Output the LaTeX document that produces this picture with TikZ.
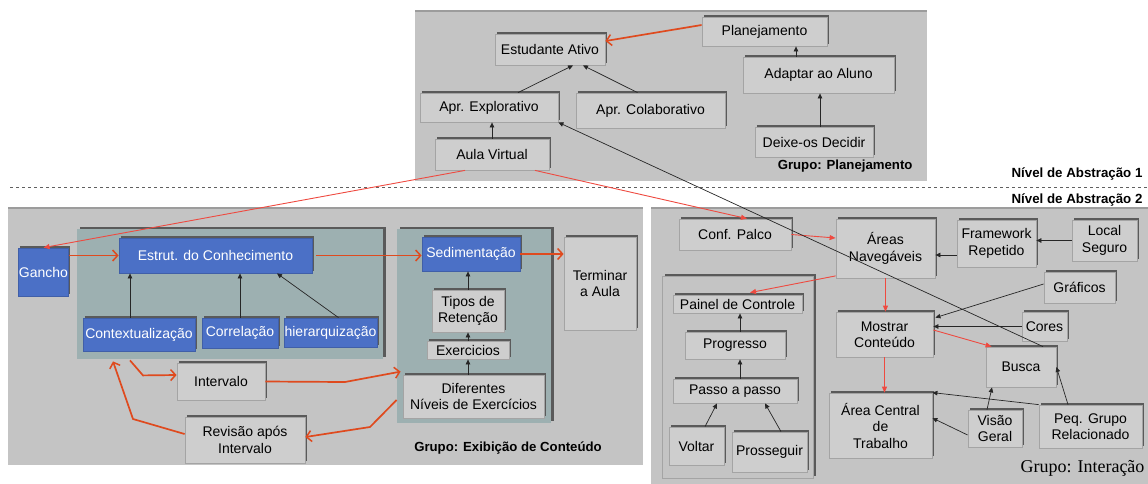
\documentclass[tikz,border=0pt]{standalone}
\usepackage{fontspec}
\setmainfont{Liberation Sans}
\newfontfamily\grpserif{Liberation Serif}
\usetikzlibrary{arrows.meta}
\definecolor{panelgray}{HTML}{C4C4C4}
\definecolor{paneltop}{HTML}{9C9C9C}
\definecolor{boxgray}{HTML}{CECECE}
\definecolor{boxedge}{HTML}{A4A4A4}
\definecolor{darkedge}{HTML}{5A5A5A}
\definecolor{tealbox}{HTML}{9DB0B1}
\definecolor{bluebox}{HTML}{4B70C6}
\definecolor{redline}{HTML}{DF4A1E}
\definecolor{thinred}{HTML}{EE4A40}
\definecolor{dashgray}{HTML}{606060}

\tikzset{
  box/.style={draw=boxedge, fill=boxgray, line width=0.8pt, inner sep=0.5pt,
    align=center, font=\fontsize{14}{16.5}\selectfont,
    preaction={fill=darkedge, transform canvas={shift={(1.6pt,1.6pt)}}}},
  bluenode/.style={box, fill=bluebox, draw=bluebox!85!black, text=white},
  sz/.style 2 args={minimum width=#1, minimum height=#2},
  blk/.style={-{Triangle[length=5pt,width=4.5pt]}, line width=0.7pt, draw=black!85},
  redthick/.style={-{Straight Barb[length=5pt,width=11pt,line width=1.5pt]},
    line width=1.7pt, draw=redline},
  redthin/.style={-{Triangle[length=6pt,width=5pt]}, line width=0.9pt, draw=thinred},
  grplabel/.style={font=\bfseries\fontsize{13.2}{15}\selectfont},
  levellabel/.style={font=\bfseries\fontsize{13.3}{15}\selectfont, anchor=east},
  panel/.style={fill=panelgray},
  innerpanel/.style={preaction={fill=darkedge, transform canvas={shift={(2.5pt,2.5pt)}}}},
}

\begin{document}
\begin{tikzpicture}[x=1pt,y=-1pt]
\useasboundingbox (0,0) rectangle (1148,483);

% ---------- group panels ----------
\fill[panel] (415,10) rectangle (927,181);
\draw[paneltop, line width=2pt] (415,11) -- (927,11);
\fill[panel] (8,207) rectangle (643,465);
\draw[paneltop, line width=2pt] (8,208) -- (643,208);
\fill[panel] (651,207) rectangle (1150,485);
\draw[paneltop, line width=2pt] (651,208) -- (1150,208);

% inner framed areas
\fill[tealbox, innerpanel] (77,229) rectangle (383,359);
\fill[tealbox, innerpanel] (397,229) rectangle (551,423);
\fill[panelgray, innerpanel] (662,276) rectangle (813,478);
\draw[boxedge, line width=0.6pt] (662,276) rectangle (813,478);

% ---------- abstraction levels ----------
\coordinate (dashL) at (10,187);
\coordinate (dashR) at (1148,187);
\draw[dashgray, dashed, line width=0.7pt] (dashL) -- (dashR);
\node[levellabel] (lvlA) at (1146,174) {Nível de Abstração 1};
\node[levellabel] (lvlB) at (1146,200) {Nível de Abstração 2};

% ---------- group: planejamento ----------
\node[box, sz={110}{31}] (estud) at (550,49.5) {Estudante Ativo};
\node[box, sz={138}{29}] (aexp) at (489,107.5) {Apr. Explorativo};
\node[box, sz={149}{35}] (acol) at (650.5,110.5) {Apr. Colaborativo};
\node[box, sz={114}{31}] (aula) at (492,154.5) {Aula Virtual};
\node[box, sz={125}{29}] (plan) at (764.5,31.5) {Planejamento};
\node[box, sz={151}{36}] (adapt) at (818.5,75) {Adaptar ao Aluno};
\node[box, sz={118}{30}] (deixe) at (814,142) {Deixe-os Decidir};
\node[grplabel, anchor=east] (gplan) at (916,166) {Grupo: Planejamento};

% ---------- group: exibicao de conteudo ----------
\node[bluenode, sz={47}{48}] (gancho) at (43.5,272) {Gancho};
\node[bluenode, sz={193}{35}] (estrut) at (215.5,255.5) {Estrut. do Conhecimento};
\node[bluenode, sz={112}{33}] (context) at (139,334.5) {Contextualização};
\node[bluenode, sz={76}{30}] (correl) at (240,333) {Correlação};
\node[bluenode, sz={89}{29}] (hier) at (330.5,332.5) {hierarquização};
\node[bluenode, sz={98}{34}] (sedim) at (471,254) {Sedimentação};
\node[box, sz={88}{37}] (interv) at (221,381.5) {Intervalo};
\node[box, sz={120}{46}] (revis) at (245,440) {Revisão após\\Intervalo};
\node[box, sz={72}{42}] (tipos) at (468,311) {Tipos de\\Retenção};
\node[box, sz={82}{18}] (exerc) at (468,350) {Exercicios};
\node[box, sz={141}{43}] (difer) at (473.5,396.5) {Diferentes\\Níveis de Exercícios};
\node[box, sz={72}{93}] (termin) at (600,283.5) {Terminar\\a Aula};
\node[grplabel] (gexib) at (508,448) {Grupo: Exibição de Conteúdo};

% ---------- group: interacao ----------
\node[box, sz={112}{31}] (conf) at (735,234.5) {Conf. Palco};
\node[box, sz={99}{59}] (areas) at (885.5,248.5) {Áreas\\Navegáveis};
\node[box, sz={79}{47}] (frame) at (996.5,243.5) {Framework\\Repetido};
\node[box, sz={65}{41}] (local) at (1104.5,240.5) {Local\\Seguro};
\node[box, sz={71}{31}] (graf) at (1079.5,287.5) {Gráficos};
\node[box, sz={45}{29}] (cores) at (1044.5,326.5) {Cores};
\node[box, sz={97}{45}] (mostrar) at (884.5,334.5) {Mostrar\\Conteúdo};
\node[box, sz={70}{40}] (busca) at (1021,367) {Busca};
\node[box, sz={103}{65}] (central) at (880.5,425.5) {Área Central\\de\\Trabalho};
\node[box, sz={54}{37}] (visao) at (995,428.5) {Visão\\Geral};
\node[box, sz={103}{43}] (peq) at (1090.5,426.5) {Peq. Grupo\\Relacionado};
\node[box, sz={129}{18}] (painel) at (737.5,304) {Painel de Controle};
\node[box, sz={100}{27}] (progr) at (735,345.5) {Progresso};
\node[box, sz={124}{24}] (passo) at (735,391) {Passo a passo};
\node[box, sz={55}{38}] (voltar) at (696.5,446) {Voltar};
\node[box, sz={75}{40}] (prosseg) at (769.5,452) {Prosseguir};
\node[font=\grpserif\fontsize{18}{20}\selectfont, anchor=east] (ginter) at (1148,468) {Grupo: Interação};

% ---------- connectors: planejamento ----------
\draw[redthick] ([yshift=6.5pt]plan.west) -- ([yshift=8.5pt]estud.east);
\draw[blk] ([xshift=29pt]aexp.north) -- ([xshift=23pt]estud.south);
\draw[blk] ([xshift=-13pt]acol.north) -- ([xshift=33pt]estud.south);
\draw[blk] (aula.north) -- (aula.north |- aexp.south);
\draw[blk] ([xshift=6pt]deixe.north) -- ([xshift=6pt]deixe.north |- adapt.south);
\draw[blk] ([xshift=-22.5pt]adapt.north) -- ([xshift=-22.5pt]adapt.north |- plan.south);

% ---------- connectors: exibicao de conteudo ----------
\draw[redthick] (gancho.east |- estrut.west) -- (estrut.west);
\draw[redthick] ([xshift=4pt]estrut.east) -- (estrut.east -| sedim.west);
\draw[redthick] (sedim.east) -- (sedim.east -| termin.west);
\draw[blk] ([xshift=-9pt]context.north) -- ([xshift=-9pt]context.north |- estrut.south);
\draw[blk] (correl.north) -- (correl.north |- estrut.south);
\draw[blk] ([xshift=8pt]hier.north) -- ([xshift=61.5pt]estrut.south);
\draw[blk] (tipos.north) -- (tipos.north |- sedim.south);
\draw[blk] (exerc.north) -- (tipos.south);
\draw[blk] (difer.north -| exerc.south) -- (exerc.south);
\draw[redthick] ([xshift=-9pt,yshift=-9pt]context.south) -- ++(13,15) -- ([yshift=6.5pt]interv.west);
\draw[redthick] (interv.east) -- (345,382) -- ([xshift=-2pt,yshift=3pt]difer.north west);
\draw[redthick] ([xshift=-6pt,yshift=-3.5pt]difer.west) -- (370,427) -- ([yshift=3pt]revis.east);
\draw[redthick] ([yshift=6pt]revis.west) -- (133,419) -- ([xshift=-26pt,yshift=-10pt]context.south);

% ---------- connectors: interacao ----------
\draw[blk] (local.west) -- (local.west -| frame.east);
\draw[blk] ([yshift=-11.5pt]frame.west) -- ([yshift=-11.5pt]frame.west -| areas.east);
\draw[redthin] (areas.south) -- (areas.south |- mostrar.north);
\draw[redthin] (mostrar.south) -- (mostrar.south |- central.north);
\draw[redthin] ([yshift=2.5pt]areas.south west) -- ([xshift=12.5pt,yshift=2pt]painel.north);
\draw[redthin] ([yshift=4.5pt]mostrar.east) -- ([xshift=6pt]busca.north west);
\draw[blk] ([yshift=3.5pt]graf.west) -- ([xshift=2pt,yshift=-6pt]mostrar.north east);
\draw[blk] (cores.west) -- (cores.west -| mostrar.east);
\draw[blk] ([yshift=-6.5pt]visao.west) -- ([yshift=7.5pt]central.east);
\draw[blk] ([xshift=-8pt]visao.north) -- ([xshift=-29pt]busca.south);
\draw[blk] ([xshift=-22.5pt]peq.north) -- (busca.east);
\draw[blk] (peq.north west) -- (central.north east);
\draw[blk] ([xshift=5pt]progr.north) -- ([xshift=5pt]progr.north |- painel.south);
\draw[blk] ([xshift=5pt]passo.north) -- ([xshift=5pt]passo.north |- progr.south);
\draw[blk] ([xshift=8.5pt]voltar.north) -- ([xshift=-18pt]passo.south);
\draw[blk] ([xshift=11.5pt]prosseg.north) -- ([xshift=30pt]passo.south);

% ---------- connectors across levels ----------
\draw[redthin] ([xshift=-27pt]aula.south) -- (gancho.north);
\draw[redthin] ([xshift=43pt]aula.south) -- ([xshift=12pt]conf.north);
\draw[redthin] (conf.east) -- ([yshift=10.5pt]areas.west);
\draw[blk] ([xshift=22pt]busca.north) -- (aexp.south east);
\end{tikzpicture}
\end{document}
